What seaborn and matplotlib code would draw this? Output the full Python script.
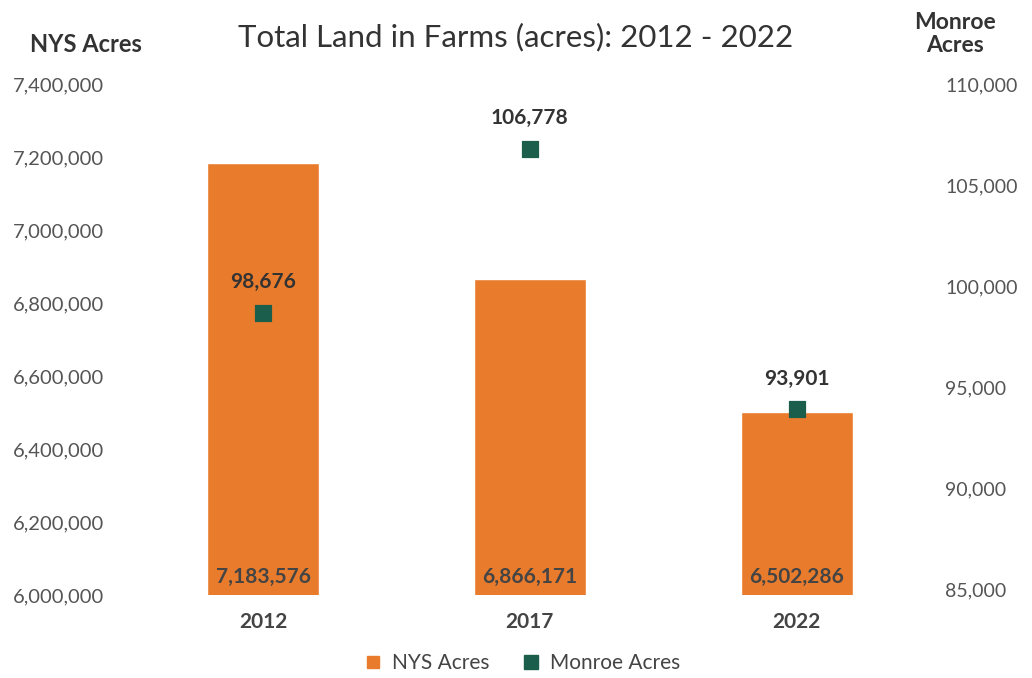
import matplotlib
matplotlib.use("Agg")
import matplotlib.pyplot as plt
import seaborn as sns
import pandas as pd
from matplotlib.ticker import FuncFormatter
from matplotlib.lines import Line2D

years = ["2012", "2017", "2022"]
nys_acres = [7183576, 6866171, 6502286]
monroe_acres = [98676, 106778, 93901]

sns.set_style("white")
plt.rcParams['font.family'] = ['Lato', 'DejaVu Sans']

orange = "#e97c2c"
green = "#1b5e4b"
txt = "#444444"

df = pd.DataFrame({"year": years, "nys": nys_acres, "monroe": monroe_acres})

fig = plt.figure(figsize=(10.32, 6.78), dpi=100)
ax = fig.add_axes([0.126, 0.122, 0.775, 0.754])
sns.barplot(data=df, x="year", y="nys", color=orange, width=0.42, ax=ax,
            saturation=1)
ax.set_ylim(6000000, 7400000)
ax.set_xlim(-0.5, 2.5)
ax.yaxis.set_major_formatter(FuncFormatter(lambda v, p: f"{int(v):,}"))
ax.set_yticks(range(6000000, 7400001, 200000))
ax.set_xlabel("")
ax.set_ylabel("")
ax.tick_params(axis='y', labelsize=14.5, colors="#555555", length=0, pad=19)
ax.tick_params(axis='x', labelsize=15, colors=txt, length=0, pad=12)
for lbl in ax.get_xticklabels():
    lbl.set_fontweight("bold")
for s in ax.spines.values():
    s.set_visible(False)

for i, v in enumerate(nys_acres):
    ax.text(i, 6000000 + 0.018 * 1400000 + 25000, f"{v:,}", ha="center", va="center",
            fontsize=15, fontweight="bold", color=txt)

ax2 = ax.twinx()
sns.scatterplot(data=df, x="year", y="monroe", marker="s", s=120, color=green,
                edgecolor=green, ax=ax2, zorder=5)
ax2.set_ylim(84700, 109800)
ax2.set_xlim(-0.5, 2.5)
ax2.set_yticks(range(85000, 110001, 5000))
ax2.yaxis.set_major_formatter(FuncFormatter(lambda v, p: f"{int(v):,}"))
ax2.tick_params(axis='y', labelsize=14, colors="#555555", length=0, pad=11)
ax2.set_ylabel("")
for s in ax2.spines.values():
    s.set_visible(False)
for i, v in enumerate(monroe_acres):
    ax2.annotate(f"{v:,}", (i, v), xytext=(0, 15), textcoords="offset points",
                 ha="center", va="bottom", fontsize=15, fontweight="bold", color="#333333")

fig.text(0.5, 0.945, "Total Land in Farms (acres): 2012 - 2022", ha="center", va="center",
         fontsize=22.5, color="#333333")
fig.text(0.083, 0.935, "NYS Acres", ha="center", va="center", fontsize=17,
         fontweight="bold", color="#333333")
fig.text(0.925, 0.95, "Monroe\nAcres", ha="center", va="center", fontsize=16.5,
         fontweight="bold", color="#333333", linespacing=1.1)

handles = [Line2D([], [], marker="s", linestyle="none", color=orange, markersize=8),
           Line2D([], [], marker="s", linestyle="none", color=green, markersize=10)]
fig.legend(handles, ["NYS Acres", "Monroe Acres"], loc="center", bbox_to_anchor=(0.5, 0.022),
           ncol=2, frameon=False, fontsize=15, handletextpad=-0.1, columnspacing=1.0,
           labelcolor="#444444")

fig.savefig("out.png", dpi=100)
